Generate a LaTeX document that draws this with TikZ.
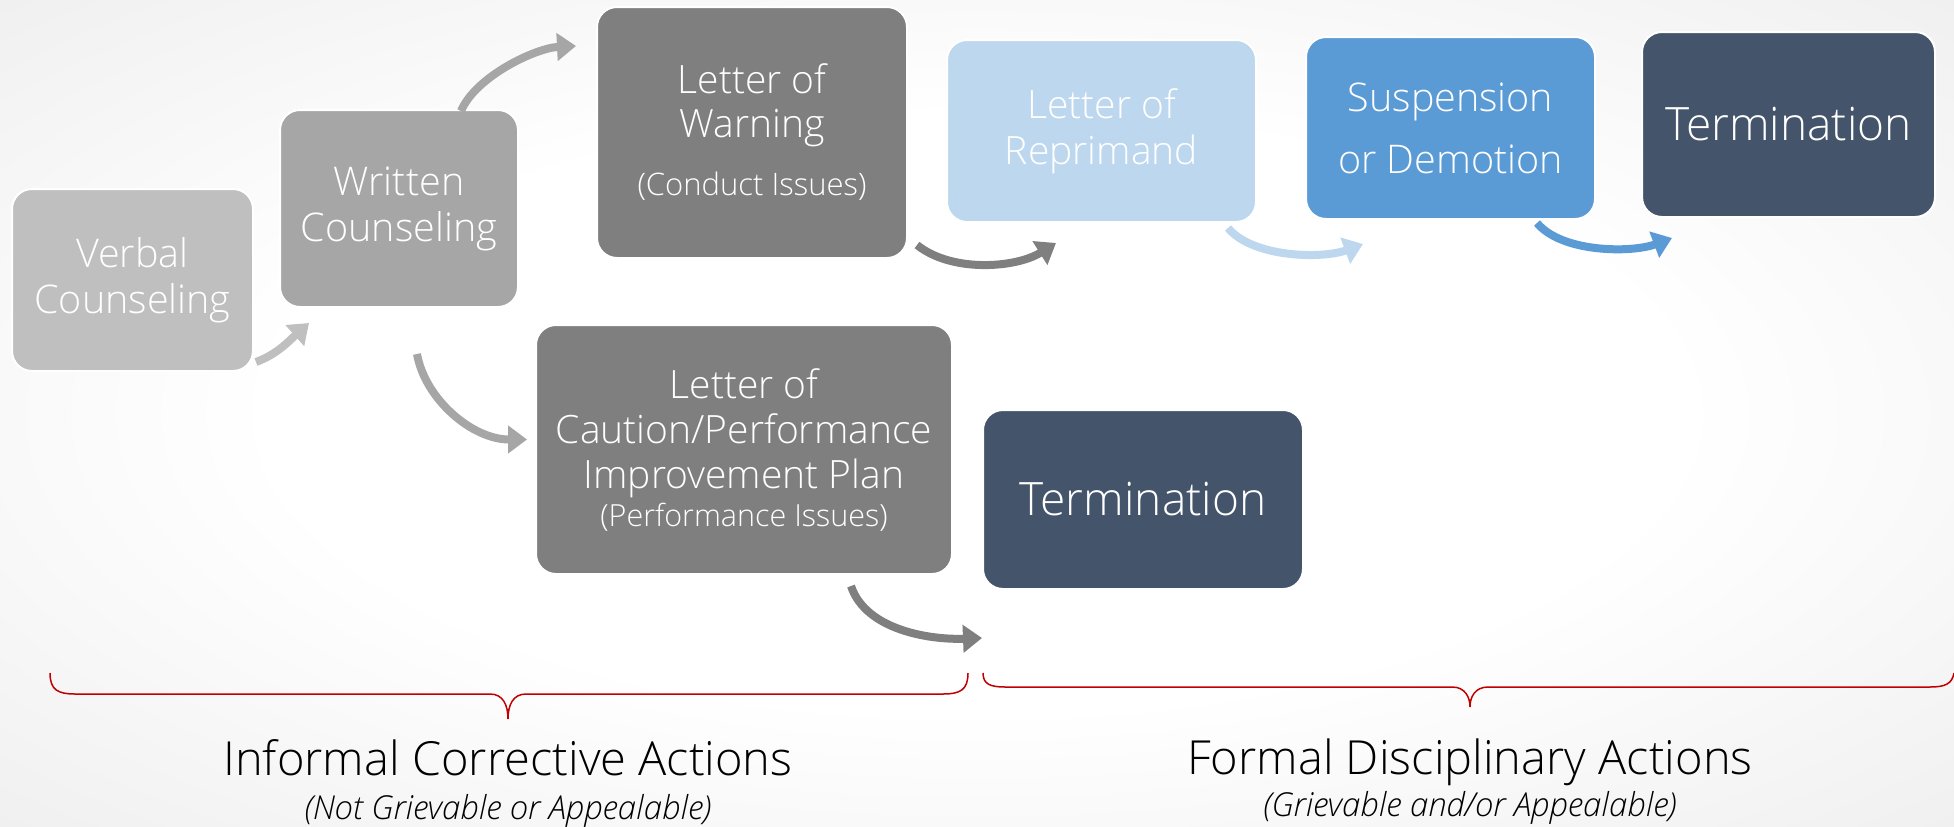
\documentclass[tikz,border=0pt]{standalone}
\usepackage{fontspec}
\setmainfont{Open Sans}[UprightFont=* Light, ItalicFont=* Light Italic]
\usetikzlibrary{arrows.meta,calc}
\definecolor{cVerbal}{HTML}{BFBFBF}
\definecolor{cWritten}{HTML}{A6A6A6}
\definecolor{cDark}{HTML}{7F7F7F}
\definecolor{cLightBlue}{HTML}{BDD7EE}
\definecolor{cBlue}{HTML}{5B9BD5}
\definecolor{cNavy}{HTML}{44546A}
\definecolor{cRed}{HTML}{C00000}
\pgfdeclareradialshading{bgshade}{\pgfpoint{0bp}{0bp}}{color(0bp)=(white); color(18bp)=(white); color(71bp)=(black!18)}
\begin{document}
\begin{tikzpicture}[x=1pt,y=-1pt,
  box/.style={rounded corners=20pt, draw=white, line width=2pt, text=white, align=center, inner sep=0pt},
  arr/.style={line width=8pt, -{Triangle[length=19pt,width=27pt]}},
  brace/.style={draw=cRed, line width=1.5pt},
  caption/.style={anchor=base, text=black, font=\fontsize{47}{56}\selectfont},
  subcaption/.style={anchor=base, text=black, font=\fontsize{33}{38}\selectfont\itshape}]
\shade[shading=bgshade] (0,0) rectangle (1954,827);
\useasboundingbox (0,0) rectangle (1954,827);

\node[box, fill=cVerbal, minimum width=241pt, minimum height=182pt, font=\fontsize{39.5}{46}\selectfont] (verbal) at (132.5,280) {Verbal\\Counseling};
\node[box, fill=cWritten, minimum width=238pt, minimum height=197pt, font=\fontsize{39.5}{46}\selectfont] (written) at (399,208.5) {Written\\Counseling};
\node[box, fill=cDark, minimum width=310pt, minimum height=251pt, font=\fontsize{39}{44}\selectfont] (warning) at (752,132.5) {Letter of\\Warning\\[14pt]{\fontsize{31}{36}\selectfont (Conduct Issues)}};
\node[box, fill=cLightBlue, minimum width=309pt, minimum height=182pt, font=\fontsize{39}{46}\selectfont] (reprimand) at (1101.5,131) {Letter of\\Reprimand};
\node[box, fill=cBlue, minimum width=289pt, minimum height=182pt, font=\fontsize{39.5}{62}\selectfont] (suspension) at (1450.5,128) {Suspension\\or Demotion};
\node[box, fill=cNavy, minimum width=293pt, minimum height=185pt, font=\fontsize{46}{54}\selectfont] (termtop) at (1788.5,124.5) {Termination};
\node[box, fill=cDark, minimum width=416pt, minimum height=249pt, font=\fontsize{39}{45}\selectfont] (caution) at (744,449.5) {Letter of\\Caution/Performance\\Improvement Plan\\[-7pt]{\fontsize{30.5}{36}\selectfont (Performance Issues)}};
\node[box, fill=cNavy, minimum width=320pt, minimum height=179pt, font=\fontsize{46}{54}\selectfont] (termbot) at (1143,499.5) {Termination};

\coordinate (free) at (982,638);

\draw[arr, cVerbal] ([shift={(2,-10)}]verbal.south east) .. controls +(22,-8) and +(-18,16) .. ([shift={(30,15)}]written.south west);
\draw[arr, cWritten] ([shift={(62,2)}]written.north) .. controls +(15,-35) and +(-40,2) .. ([shift={(-20,40)}]warning.north west);
\draw[arr, cWritten] ([shift={(18,46)}]written.south) .. controls +(8,45) and +(-55,0) .. ([shift={(-8,-10)}]caution.west);
\draw[arr, cDark] ([shift={(9,-14)}]warning.south east) .. controls +(35,28) and +(-40,25) .. ([shift={(110,20)}]reprimand.south west);
\draw[arr, cLightBlue] ([shift={(-29,5)}]reprimand.south east) .. controls +(25,30) and +(-40,15) .. ([shift={(58,24)}]suspension.south west);
\draw[arr, cBlue] ([shift={(-59,3)}]suspension.south east) .. controls +(25,30) and +(-40,15) .. ([shift={(31,20)}]termtop.south west);
\draw[arr, cDark] ([shift={(-102,11)}]caution.south east) .. controls +(15,45) and +(-50,2) .. (free);

\draw[brace] (50,673) .. controls (50,690) and (58,694) .. (75,694) -- (490,694) .. controls (503,694) and (508,705) .. (508,719) .. controls (508,705) and (513,694) .. (526,694) -- (943,694) .. controls (960,694) and (968,690) .. (968,673);
\draw[brace] (983,673) .. controls (983,684) and (990,687) .. (1005,687) -- (1452,687) .. controls (1465,687) and (1470,697) .. (1470,707) .. controls (1470,697) and (1475,687) .. (1488,687) -- (1930,687) .. controls (1945,687) and (1952,684) .. (1954,673);

\node[caption] (informal) at (508,775) {Informal Corrective Actions};
\node[subcaption] (informalsub) at (508,819) {(Not Grievable or Appealable)};
\node[caption] (formal) at (1470,774) {Formal Disciplinary Actions};
\node[subcaption] (formalsub) at (1470,816) {(Grievable and/or Appealable)};
\end{tikzpicture}
\end{document}
